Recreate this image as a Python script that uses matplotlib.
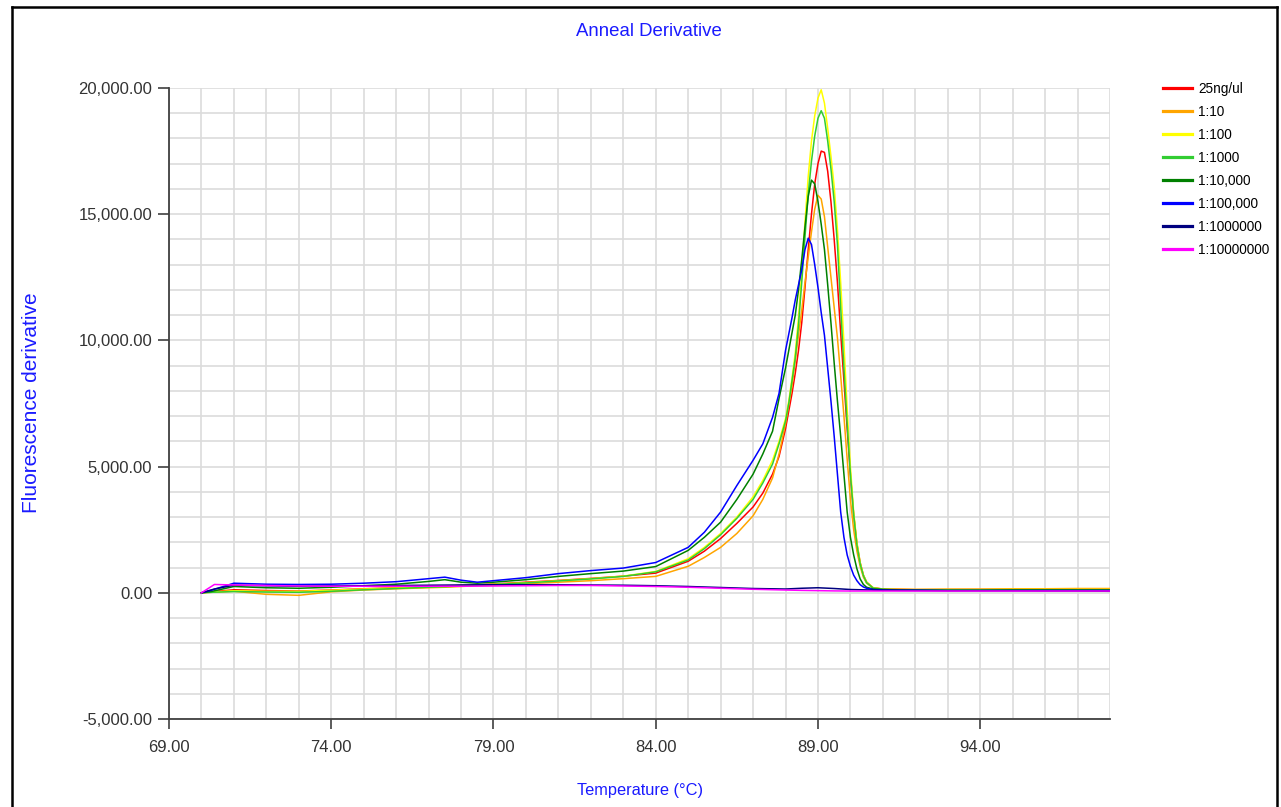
import matplotlib
matplotlib.use("Agg")
import matplotlib.pyplot as plt
from matplotlib.ticker import FixedLocator, MultipleLocator, FuncFormatter
from matplotlib.lines import Line2D

# ---------------- data ----------------
temps = [70.0, 70.3, 71, 72, 73, 74, 75, 76, 77, 77.5, 78, 78.5, 79, 80, 81, 82, 83, 84, 85, 85.5, 86, 86.5,
         87.0, 87.3, 87.6, 87.8, 88.0, 88.1, 88.2, 88.3, 88.4, 88.5, 88.6, 88.7, 88.8, 88.9, 89.0, 89.1,
         89.2, 89.3, 89.4, 89.5, 89.6, 89.7, 89.8, 89.9, 90.0, 90.1, 90.2, 90.3, 90.4, 90.5, 90.7, 91.0,
         91.5, 92, 93, 94, 95, 96, 97, 98]

red = [0, 40, 120, 90, 70, 110, 160, 200, 240, 260, 290, 310, 350, 420, 490, 570, 660, 780, 1250, 1650, 2150, 2750,
       3400, 3950, 4700, 5400, 6500, 7200, 7900, 8700, 9600, 10700, 12100, 13600, 15000, 16200, 17000, 17500,
       17450, 16700, 15500, 14000, 12300, 10300, 8400, 6500, 4700, 3100, 1950, 1200, 700, 420, 200, 150,
       130, 120, 120, 125, 120, 125, 130, 130]
orange = [0, 20, 60, -60, -100, 40, 110, 160, 200, 220, 250, 280, 300, 360, 420, 480, 560, 650, 1050, 1400, 1800, 2350,
          3050, 3700, 4550, 5500, 6700, 7450, 8200, 9200, 10200, 11200, 12300, 13300, 14300, 15200, 15750, 15600,
          14900, 13700, 12500, 11300, 10100, 8600, 7000, 5300, 3700, 2500, 1650, 1050, 620, 380, 190, 150,
          150, 140, 150, 150, 160, 160, 170, 170]
yellow = [0, 30, 80, 60, 60, 100, 150, 190, 230, 250, 280, 300, 340, 400, 480, 560, 660, 845, 1350, 1800, 2350, 3000,
          3800, 4450, 5250, 6000, 6900, 7600, 8500, 9500, 10900, 12700, 14700, 16500, 17900, 18900, 19600, 19930,
          19400, 18400, 17300, 16100, 14400, 12300, 9900, 7300, 5000, 3200, 2000, 1200, 700, 420, 200, 140,
          120, 120, 120, 120, 130, 130, 130, 130]
lightgreen = [0, 20, 50, 30, 20, 60, 120, 170, 220, 240, 270, 300, 330, 390, 470, 550, 650, 830, 1300, 1750, 2300, 2950,
              3700, 4350, 5100, 5900, 6800, 7500, 8400, 9300, 10600, 12300, 14100, 15800, 17100, 18100, 18800, 19100,
              18800, 17900, 16800, 15500, 13800, 11300, 8900, 6700, 4700, 3100, 1900, 1150, 680, 400, 190, 140,
              120, 110, 110, 110, 120, 120, 120, 120]
darkgreen = [0, 50, 250, 200, 180, 220, 280, 340, 450, 520, 420, 380, 420, 520, 650, 760, 860, 1040, 1680, 2200, 2800, 3700,
             4700, 5500, 6400, 7700, 8900, 9600, 10300, 11000, 12000, 13200, 14500, 15700, 16350, 16200, 15500, 14600,
             13600, 12200, 10700, 9100, 7600, 6200, 4700, 3200, 2200, 1500, 950, 550, 330, 220, 150, 130,
             110, 110, 100, 100, 110, 110, 110, 110]
blue = [0, 100, 380, 340, 330, 340, 380, 440, 560, 620, 500, 420, 480, 600, 760, 880, 980, 1200, 1800, 2400, 3200, 4250,
        5250, 5900, 6950, 7900, 9600, 10250, 10900, 11600, 12200, 12800, 13600, 14050, 13800, 13000, 12100, 11100,
        10200, 8900, 7600, 6200, 4700, 3200, 2200, 1500, 1050, 700, 480, 320, 230, 180, 130, 110,
        100, 100, 90, 90, 90, 90, 90, 90]

temps_flat = [70.0, 70.4, 71, 72, 73, 74, 75, 76, 77, 78, 79, 80, 81, 82, 83, 84, 85, 86, 87, 88, 88.5, 89,
              89.5, 90, 91, 92, 93, 94, 95, 96, 97, 98]
navy = [0, 150, 300, 280, 260, 270, 280, 290, 300, 310, 320, 320, 320, 310, 300, 280, 250, 210, 170, 150, 180, 200,
        170, 130, 100, 90, 80, 80, 80, 70, 70, 60]
magenta = [0, 330, 310, 290, 270, 260, 260, 260, 260, 260, 270, 280, 290, 290, 270, 250, 220, 180, 140, 110, 95, 85,
           75, 70, 70, 70, 70, 70, 70, 70, 70, 70]

labels = ["25ng/ul", "1:10", "1:100", "1:1000", "1:10,000", "1:100,000", "1:1000000", "1:10000000"]
colors = ["#ff0000", "#ffa500", "#ffff00", "#32cd32", "#008000", "#0000ff", "#000080", "#ff00ff"]

x_ticks = [69, 74, 79, 84, 89, 94]
y_ticks = [-5000, 0, 5000, 10000, 15000, 20000]

# ---------------- figure ----------------
W, H = 1281, 807
fig = plt.figure(figsize=(W / 100, H / 100), dpi=100)
plt.rcParams["font.family"] = ["Liberation Sans", "DejaVu Sans"]

ax = fig.add_axes([169 / W, 1 - 719 / H, (1110 - 169) / W, (719 - 88) / H])

series = [(temps, red), (temps, orange), (temps, yellow), (temps, lightgreen),
          (temps, darkgreen), (temps, blue), (temps_flat, navy), (temps_flat, magenta)]
for (tx, vy), lab, col in zip(series, labels, colors):
    ax.plot(tx, vy, color=col, lw=1.1, label=lab)

ax.set_xlim(69, 98)
ax.set_ylim(-5000, 20000)

ax.xaxis.set_major_locator(FixedLocator(x_ticks))
ax.xaxis.set_minor_locator(MultipleLocator(1))
ax.yaxis.set_major_locator(FixedLocator(y_ticks))
ax.yaxis.set_minor_locator(MultipleLocator(1000))
fmt = FuncFormatter(lambda v, p: f"{v:,.2f}")
ax.xaxis.set_major_formatter(fmt)
ax.yaxis.set_major_formatter(fmt)

ax.grid(True, which="both", color="#dcdcdc", lw=1.2)
ax.set_axisbelow(True)
for s in ["top", "right"]:
    ax.spines[s].set_visible(False)
for s in ["left", "bottom"]:
    ax.spines[s].set_color("#404040")
    ax.spines[s].set_linewidth(1.3)
ax.tick_params(which="minor", length=0)
ax.tick_params(axis="y", which="major", length=8, width=1.2, color="#404040", pad=4,
               labelsize=12, labelcolor="#333333")
ax.tick_params(axis="x", which="major", length=7, width=1.2, color="#404040", pad=8,
               labelsize=12, labelcolor="#333333")

# titles / labels
fig.text(649 / W, 1 - 32 / H, "Anneal Derivative", ha="center", va="center",
         color="#1a1aff", fontsize=13.4)
fig.text(640 / W, 1 - 791 / H, "Temperature (°C)", ha="center", va="center",
         color="#1a1aff", fontsize=11.8)
fig.text(32 / W, 1 - 403 / H, "Fluorescence derivative", ha="center", va="center",
         rotation=90, color="#1a1aff", fontsize=15)

# legend
handles = [Line2D([0], [0], color=c, lw=2.3) for c in colors]
fig.legend(handles, labels, loc="upper left", bbox_to_anchor=(1163 / W, 1 - 82 / H),
           frameon=False, fontsize=9.8, handlelength=2.15, handletextpad=0.45,
           labelspacing=0.66, borderpad=0, borderaxespad=0)

# outer border
bl = dict(color="black", lw=1.8, transform=fig.transFigure)
fig.add_artist(Line2D([12 / W, 12 / W], [0, 1 - 7 / H], **bl))
fig.add_artist(Line2D([12 / W, 1277 / W], [1 - 7 / H, 1 - 7 / H], **bl))
fig.add_artist(Line2D([1277 / W, 1277 / W], [0, 1 - 7 / H], **bl))

fig.savefig("out.png", dpi=100)
